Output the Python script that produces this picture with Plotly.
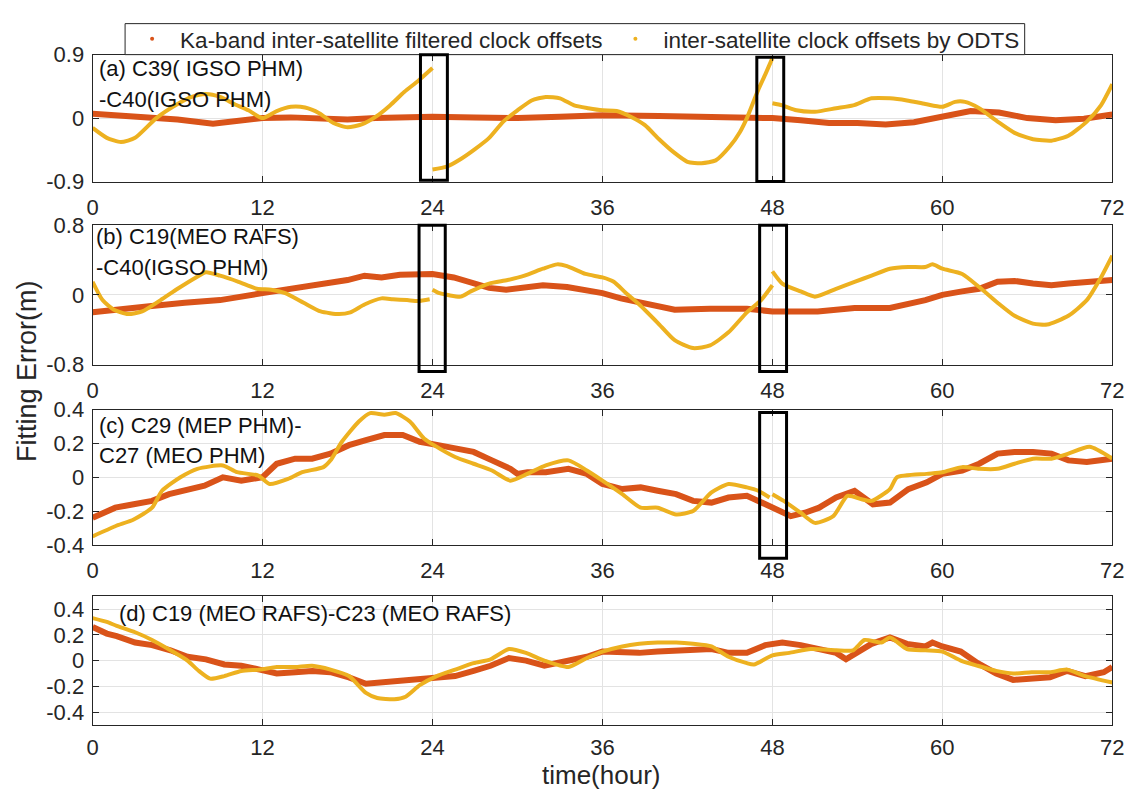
import plotly.graph_objects as go

# ---- data: (hour, metres) samples per series; separate lists = separate arcs ----
ka_a = [(0, 0.06), (2, 0.04), (4, 0.02), (6, -0.02), (8.5, -0.08), (10, -0.05), (12, 0.0),
        (14, 0.01), (16, -0.01), (18, -0.02), (20, 0.0), (22, 0.02), (24, 0.02), (27, 0.01),
        (30, 0.0), (33, 0.02), (36, 0.04), (40, 0.03), (44, 0.02), (48, 0.0), (50, -0.03),
        (52, -0.07), (54, -0.07), (56, -0.09), (58, -0.06), (60, 0.02), (62, 0.1), (64, 0.08),
        (66, 0.0), (68, -0.03), (70, -0.01), (72, 0.05)]
odts_a = [
    [(0, -0.14), (1, -0.28), (2, -0.34), (3, -0.28), (4.5, 0.0), (6, 0.2), (7, 0.3), (8, 0.34),
     (9, 0.3), (10, 0.2), (11, 0.11), (12, 0.0), (13, 0.1), (14, 0.16), (15, 0.15), (16, 0.07),
     (17, -0.07), (18, -0.13), (19, -0.09), (20, 0.02), (21, 0.18), (22, 0.37), (23, 0.53),
     (24, 0.71)],
    [(24, -0.73), (25, -0.69), (26, -0.58), (27, -0.44), (28, -0.28), (29, -0.05), (30, 0.11),
     (31, 0.25), (32, 0.3), (33, 0.28), (34, 0.18), (35, 0.14), (36, 0.11), (37, 0.1),
     (38, 0.02), (39, -0.1), (40, -0.3), (41, -0.48), (42, -0.62), (43, -0.64), (44, -0.6),
     (45, -0.4), (45.7, -0.2), (46.2, 0.0), (47, 0.4), (47.5, 0.62), (48, 0.85)],
    [(48, 0.21), (48.7, 0.18), (49.7, 0.11), (51, 0.09), (52.5, 0.14), (53.7, 0.18), (55, 0.28),
     (56.3, 0.28), (57.5, 0.25), (58.8, 0.2), (60, 0.16), (60.9, 0.23), (61.6, 0.23),
     (62.6, 0.14), (63.9, -0.05), (65.1, -0.21), (66.4, -0.3), (67.7, -0.32), (68.9, -0.25),
     (70.2, -0.05), (71.2, 0.18), (72, 0.48)],
]

ka_b = [(0, -0.2), (1.5, -0.17), (4, -0.13), (6.5, -0.09), (9, -0.06), (12, 0.02), (14, 0.07),
        (16.6, 0.13), (18, 0.17), (19.2, 0.22), (20.4, 0.2), (21.7, 0.23), (24, 0.24),
        (25.5, 0.2), (26.7, 0.15), (28, 0.08), (29.2, 0.06), (30.5, 0.09), (31.8, 0.11),
        (33.5, 0.09), (36, 0.02), (37.3, -0.04), (38.6, -0.09), (39.9, -0.13), (41.1, -0.17),
        (43.6, -0.16), (46.2, -0.16), (48, -0.19), (50, -0.2), (51.2, -0.19), (53.8, -0.15),
        (56.3, -0.15), (58.8, -0.06), (60, 0.0), (61.4, 0.04), (62.6, 0.07), (63.9, 0.15),
        (65.1, 0.16), (66.4, 0.13), (67.7, 0.11), (68.9, 0.13), (70.2, 0.15), (72, 0.17)]
odts_b = [
    [(0, 0.15), (0.7, -0.06), (1.5, -0.17), (2.5, -0.22), (3.5, -0.19), (4.8, -0.06), (6, 0.07),
     (7.3, 0.2), (8, 0.26), (9, 0.22), (10.3, 0.15), (11.6, 0.07), (12.6, 0.06), (13.6, 0.02),
     (14.9, -0.09), (16.1, -0.19), (17.4, -0.22), (18.2, -0.2), (19.2, -0.11), (20.4, -0.04),
     (21.2, -0.05), (22.2, -0.06), (23, -0.07), (23.8, -0.05)],
    [(24, 0.06), (24.5, 0.02), (26, -0.02), (26.7, 0.04), (28, 0.13), (29.3, 0.17), (30.5, 0.22),
     (31.8, 0.3), (32.8, 0.35), (33.5, 0.33), (34.8, 0.24), (36, 0.2), (36.8, 0.15),
     (37.6, 0.03), (38.6, -0.11), (39.9, -0.32), (41.1, -0.52), (42.4, -0.61), (43.6, -0.58),
     (44.9, -0.43), (46.2, -0.2), (47.2, -0.06), (48, 0.11)],
    [(48, 0.27), (48.7, 0.13), (50, 0.04), (51, -0.02), (52.5, 0.07), (53.8, 0.15), (55, 0.22),
     (56.3, 0.3), (57.6, 0.32), (58.8, 0.32), (59.3, 0.35), (60, 0.3), (61.4, 0.24),
     (62.6, 0.09), (63.9, -0.09), (65.1, -0.24), (66.4, -0.33), (67.4, -0.34), (68.9, -0.24),
     (70.2, -0.06), (71.2, 0.2), (72, 0.45)],
]

ka_c = [(0, -0.24), (1.6, -0.18), (2.9, -0.16), (4.2, -0.14), (5.4, -0.1), (6.7, -0.07),
        (7.9, -0.05), (9.2, 0.0), (10.5, -0.02), (12, 0.0), (13, 0.08), (14.3, 0.11),
        (15.5, 0.11), (16.8, 0.14), (18.1, 0.19), (19.3, 0.22), (20.6, 0.25), (21.9, 0.25),
        (23.1, 0.21), (24.4, 0.19), (25.6, 0.17), (26.9, 0.15), (28.2, 0.1), (29.5, 0.05),
        (30, 0.02), (30.7, 0.03), (32, 0.03), (33.6, 0.05), (34.9, 0.02), (36, -0.04),
        (37.4, -0.07), (38.7, -0.06), (39.9, -0.08), (41.2, -0.1), (42.4, -0.14), (43.7, -0.15),
        (44.9, -0.12), (46.2, -0.11), (47, -0.14), (48, -0.18), (49.3, -0.23), (50.3, -0.21),
        (51.3, -0.18), (52.5, -0.12), (53.8, -0.08), (55.1, -0.16), (56.3, -0.15), (57.6, -0.07),
        (58.9, -0.03), (60, 0.02), (61.4, 0.04), (62.6, 0.08), (63.9, 0.14), (65.1, 0.15),
        (66.4, 0.15), (67.7, 0.14), (68.9, 0.1), (70.2, 0.09), (72, 0.11)]
odts_c = [
    [(0, -0.35), (1.6, -0.29), (2.9, -0.25), (4.2, -0.18), (4.9, -0.08), (6.2, 0.0), (7.4, 0.05),
     (9.2, 0.07), (10.2, 0.03), (11.7, 0.01), (12.5, -0.04), (13.8, -0.01), (14.8, 0.03),
     (16.3, 0.06), (16.8, 0.1), (17.6, 0.21), (18.8, 0.33), (19.6, 0.38), (20.6, 0.37),
     (21.4, 0.38), (22.4, 0.33), (23.4, 0.23), (24.1, 0.19), (25.6, 0.12), (26.9, 0.08),
     (28.2, 0.04), (29.5, -0.02), (30.7, 0.02), (32, 0.07), (33.6, 0.1), (34.9, 0.04),
     (36, -0.02), (37.4, -0.1), (38.7, -0.18), (39.9, -0.18), (41.2, -0.22), (42.4, -0.2),
     (43.7, -0.09), (44.9, -0.04), (46.2, -0.06), (47, -0.08), (47.8, -0.12)],
    [(48, -0.1), (48.8, -0.14), (50, -0.21), (51, -0.27), (52.3, -0.23), (53.3, -0.11),
     (54.3, -0.13), (55, -0.14), (56.3, -0.07), (56.8, 0.0), (58.9, 0.02), (60, 0.03),
     (61.4, 0.06), (62.6, 0.05), (63.9, 0.05), (65.1, 0.08), (66.4, 0.11), (67.7, 0.11),
     (68.9, 0.14), (70.4, 0.18), (72, 0.11)],
]

ka_d = [(0, 0.26), (1, 0.21), (1.7, 0.19), (3, 0.14), (4.2, 0.12), (5.5, 0.08), (6.7, 0.03),
        (8, 0.01), (9.3, -0.03), (10.5, -0.04), (11.8, -0.07), (13, -0.1), (14.3, -0.09),
        (15.5, -0.08), (16.8, -0.09), (18.1, -0.13), (19.3, -0.18), (20.6, -0.17), (21.8, -0.15),
        (23.1, -0.14), (24.3, -0.14), (25.6, -0.12), (26.9, -0.08), (28.1, -0.04), (29.4, 0.02),
        (30.6, 0.0), (31.9, -0.04), (33.6, 0.0), (34.9, 0.03), (36, 0.07), (37.4, 0.06),
        (38.6, 0.06), (39.9, 0.07), (41.2, 0.08), (42.4, 0.08), (43.7, 0.09), (44.9, 0.06),
        (46.2, 0.06), (47.5, 0.12), (48.7, 0.14), (50, 0.12), (51.2, 0.09), (52.5, 0.06),
        (53.2, 0.01), (54, 0.06), (55, 0.13), (56.3, 0.18), (57.5, 0.13), (58.8, 0.11),
        (59.3, 0.14), (60, 0.11), (61.3, 0.07), (62.5, -0.02), (63.8, -0.1), (65, -0.15),
        (66.3, -0.14), (67.6, -0.13), (68.8, -0.08), (70.1, -0.12), (71.4, -0.09), (72, -0.05)]
odts_d = [
    [(0, 0.33), (1, 0.3), (1.7, 0.27), (3, 0.22), (4.2, 0.16), (5.5, 0.08), (6.7, 0.0),
     (7.5, -0.08), (8.3, -0.14), (9.3, -0.12), (10.5, -0.08), (11.8, -0.07), (13, -0.05),
     (14.3, -0.05), (15.5, -0.04), (16.8, -0.07), (18.1, -0.12), (19.3, -0.25), (20.1, -0.29),
     (21.3, -0.3), (22.1, -0.28), (23.1, -0.19), (24.3, -0.12), (25.6, -0.07), (26.9, -0.02),
     (28.1, 0.01), (29.4, 0.09), (30.6, 0.06), (31.9, 0.0), (33.6, -0.05), (34.9, 0.02),
     (36, 0.07), (37.4, 0.11), (38.6, 0.13), (39.9, 0.14), (41.2, 0.14), (42.4, 0.13),
     (43.7, 0.11), (44.9, 0.03), (46.2, -0.02), (46.7, -0.03), (48, 0.04), (49.2, 0.06),
     (50.7, 0.09), (52.5, 0.08), (53.7, 0.08), (54.5, 0.16), (55.7, 0.14), (56.3, 0.18),
     (57.5, 0.09), (58.8, 0.08), (60, 0.07), (61.3, 0.0), (62.5, -0.04), (63.8, -0.08),
     (65, -0.1), (66.3, -0.09), (67.6, -0.09), (68.8, -0.07), (70.1, -0.12), (72, -0.17)],
]

panel_titles = [
    ["(a) C39( IGSO PHM)", "-C40(IGSO PHM)"],
    ["(b) C19(MEO RAFS)", "-C40(IGSO PHM)"],
    ["(c) C29 (MEP PHM)-", "C27 (MEO PHM)"],
    ["(d) C19 (MEO RAFS)-C23 (MEO RAFS)"],
]
y_ranges = [[-0.9, 0.9], [-0.8, 0.8], [-0.4, 0.4], [-0.5, 0.5]]
y_ticks = [[-0.9, 0, 0.9], [-0.8, 0, 0.8], [-0.4, -0.2, 0, 0.2, 0.4], [-0.4, -0.2, 0, 0.2, 0.4]]
x_ticks = [0, 12, 24, 36, 48, 60, 72]
legend_names = ["Ka-band inter-satellite filtered clock offsets",
                "inter-satellite clock offsets by ODTS"]

# highlighted windows: (panel, hour from, hour to, y-domain from, y-domain to)
windows = [(0, 23.15, 25.05, 0.01, 1.0), (0, 46.9, 48.8, 0.0, 0.98),
           (1, 23.05, 24.9, -0.05, 1.0), (1, 47.1, 49.0, -0.05, 1.0),
           (2, 47.1, 49.0, -0.1, 0.98)]

# ---- style ----
RED = "#D95319"
YEL = "#EDB120"
INK = "#262626"
FONT = "Arial, Liberation Sans, sans-serif"
W, H = 1142, 801
X_DOM = [88 / W, 1124 / W]
panel_px = [(44, 175), (220, 364), (410.5, 550), (603, 736)]  # top, bottom in px
caption_pos = [(92, [58, 90]), (89, [232, 264]), (92, [427, 458]), (113, [621])]
legend_box_px = (121, 12, 1035, 44)  # left, top, right, bottom


def unzip(pairs):
    return [p[0] for p in pairs], [p[1] for p in pairs]


def join_segments(segs):
    xs, ys = [], []
    for i, s in enumerate(segs):
        if i:
            xs.append(None)
            ys.append(None)
        x, y = unzip(s)
        xs += x
        ys += y
    return xs, ys


fig = go.Figure()
ka_all = [ka_a, ka_b, ka_c, ka_d]
odts_all = [odts_a, odts_b, odts_c, odts_d]

for i in range(4):
    sfx = "" if i == 0 else str(i + 1)
    xk, yk = unzip(ka_all[i])
    fig.add_trace(go.Scatter(x=xk, y=yk, mode="lines", line=dict(color=RED, width=6),
                             xaxis="x" + sfx, yaxis="y" + sfx, showlegend=False,
                             hoverinfo="skip"))
    xo, yo = join_segments(odts_all[i])
    fig.add_trace(go.Scatter(x=xo, y=yo, mode="lines", connectgaps=False,
                             line=dict(color=YEL, width=4, shape="spline", smoothing=0.6),
                             xaxis="x" + sfx, yaxis="y" + sfx, showlegend=False,
                             hoverinfo="skip"))

# legend keys (dot markers)
for name, col in zip(legend_names, [RED, YEL]):
    fig.add_trace(go.Scatter(x=[None], y=[None], mode="markers", name=name,
                             marker=dict(color=col, size=4), showlegend=True))

lx0, ly0, lx1, ly1 = legend_box_px
layout = dict(
    width=W, height=H, margin=dict(l=0, r=0, t=0, b=0),
    paper_bgcolor="white", plot_bgcolor="white",
    font=dict(family=FONT, color=INK, size=22),
    legend=dict(orientation="h", x=(lx0 - 1) / W, y=1 - (ly0 + ly1) / 2 / H,
                xanchor="left", yanchor="middle",
                bgcolor="rgba(0,0,0,0)", borderwidth=0,
                font=dict(size=22.5, color=INK), itemwidth=46),
)

# framed white panel behind the legend entries
shapes = [dict(type="rect", xref="paper", yref="paper", layer="above",
               x0=lx0 / W, x1=lx1 / W, y0=1 - ly1 / H, y1=1 - ly0 / H,
               line=dict(color=INK, width=1), fillcolor="white")]
annotations = []
for i in range(4):
    sfx = "" if i == 0 else str(i + 1)
    top, bot = panel_px[i]
    layout["xaxis" + sfx] = dict(
        domain=X_DOM, anchor="y" + sfx, range=[0, 72], tickvals=x_ticks,
        showgrid=True, gridcolor="#E3E3E3", gridwidth=1, zeroline=False,
        ticks="inside", ticklen=6, tickcolor=INK, showline=True, linecolor=INK,
        linewidth=1, mirror="ticks", ticklabelstandoff=(3 if i == 3 else 6),
        tickfont=dict(size=22, color=INK))
    layout["yaxis" + sfx] = dict(
        domain=[1 - bot / H, 1 - top / H], anchor="x" + sfx, range=y_ranges[i],
        tickvals=y_ticks[i], ticktext=[("0" if v == 0 else f"{v:g}") for v in y_ticks[i]],
        showgrid=True, gridcolor="#E3E3E3", gridwidth=1, zeroline=False,
        ticks="inside", ticklen=6, tickcolor=INK, showline=True, linecolor=INK,
        linewidth=1, mirror="ticks", ticklabelstandoff=3,
        tickfont=dict(size=22, color=INK))
    cx, cys = caption_pos[i]
    for txt, cy in zip(panel_titles[i], cys):
        annotations.append(dict(text=txt, xref="paper", yref="paper",
                                x=cx / W, y=1 - cy / H, xanchor="left", yanchor="middle",
                                showarrow=False, font=dict(size=22, color="#111111")))

for p, h0, h1, d0, d1 in windows:
    sfx = "" if p == 0 else str(p + 1)
    shapes.append(dict(type="rect", xref="x" + sfx, yref="y" + sfx + " domain",
                       x0=h0, x1=h1, y0=d0, y1=d1,
                       line=dict(color="black", width=3), fillcolor="rgba(0,0,0,0)"))

annotations.append(dict(text="Fitting Error(m)", xref="paper", yref="paper",
                        x=22 / W, y=1 - 371 / H, textangle=-90, showarrow=False,
                        xanchor="center", yanchor="middle", font=dict(size=27, color=INK)))
annotations.append(dict(text="time(hour)", xref="paper", yref="paper",
                        x=605 / W, y=1 - 788 / H, showarrow=False,
                        xanchor="center", yanchor="middle", font=dict(size=26, color=INK)))

layout["shapes"] = shapes
layout["annotations"] = annotations
fig.update_layout(**layout)

fig.write_html("out.html")
